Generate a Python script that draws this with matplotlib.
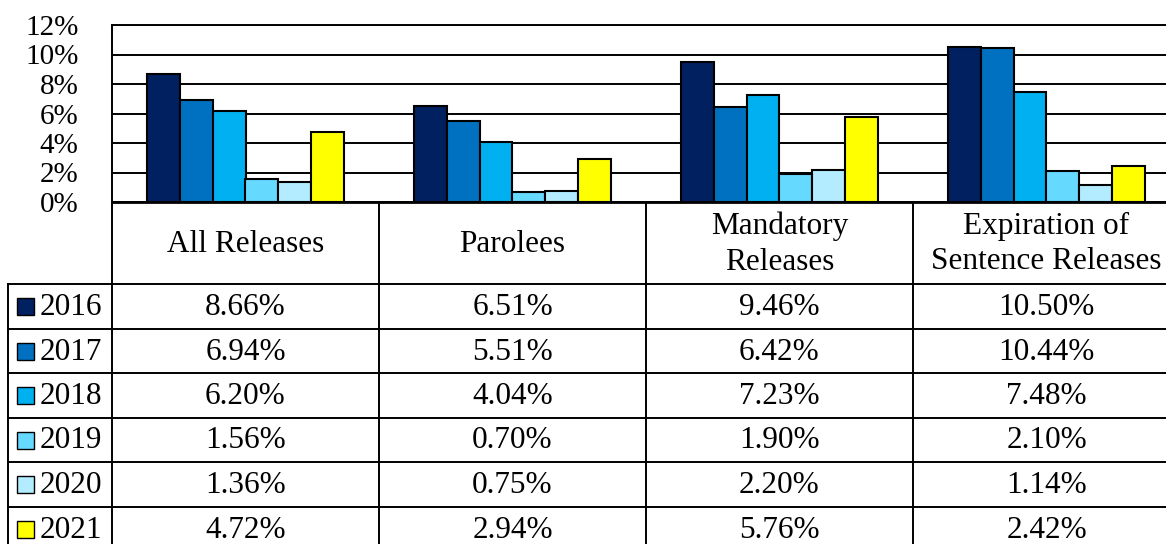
import matplotlib.pyplot as plt
from matplotlib.patches import Rectangle
import numpy as np

plt.rcParams['font.family'] = ['Liberation Serif', 'DejaVu Serif']

categories = ["All Releases", "Parolees", "Mandatory\nReleases", "Expiration of\nSentence Releases"]
years = ["2016", "2017", "2018", "2019", "2020", "2021"]
rates = {
    "2016": [8.66, 6.51, 9.46, 10.50],
    "2017": [6.94, 5.51, 6.42, 10.44],
    "2018": [6.20, 4.04, 7.23, 7.48],
    "2019": [1.56, 0.70, 1.90, 2.10],
    "2020": [1.36, 0.75, 2.20, 1.14],
    "2021": [4.72, 2.94, 5.76, 2.42],
}
colors = ["#002060", "#0070C0", "#00B0F0", "#66D9FF", "#B3ECFF", "#FFFF00"]

W, H = 1166, 544
FS = 22.5
fig = plt.figure(figsize=(W / 100, H / 100), dpi=100)

# layout in pixels (the chart runs a little past the right edge of the canvas)
plot_left, plot_right = 112, 1180
plot_top, plot_bottom = 25, 202
col_edges = [112, 379, 646, 913, 1180]
row_edges = [284, 329, 373, 418, 462, 507, 551]
legend_left = 8

# bar chart
ax = fig.add_axes([plot_left / W, 1 - plot_bottom / H,
                   (plot_right - plot_left) / W, (plot_bottom - plot_top) / H])
bw = 0.123
x = np.arange(len(categories)) + 0.5
for j, yr in enumerate(years):
    ax.bar(x + (j - 2.5) * bw, rates[yr], width=bw, color=colors[j],
           edgecolor="black", linewidth=1.5, zorder=3)
ax.set_xlim(0, 4)
ax.set_ylim(0, 12)
ax.set_yticks(range(0, 13, 2))
ax.set_yticklabels([f"{v}%" for v in range(0, 13, 2)], fontsize=21)
ax.tick_params(axis="y", length=0, pad=24)
ax.set_xticks([])
ax.grid(axis="y", color="black", linewidth=1.4, zorder=0)
ax.spines["right"].set_visible(False)
ax.spines["top"].set_linewidth(1.4)
ax.spines["left"].set_linewidth(1.4)
ax.spines["bottom"].set_linewidth(2)

# data table underneath
tb = fig.add_axes([0, 0, 1, 1])
tb.set_xlim(0, W)
tb.set_ylim(H, 0)
tb.axis("off")
lw = 1.4
for cx in col_edges[:-1]:
    tb.plot([cx, cx], [plot_bottom, H], color="black", lw=lw)
tb.plot([legend_left, legend_left], [row_edges[0], H], color="black", lw=lw)
for ry in row_edges[:-1]:
    tb.plot([legend_left, W], [ry, ry], color="black", lw=lw)

header_y = 244
for i, cat in enumerate(categories):
    cx = (col_edges[i] + col_edges[i + 1]) / 2
    tb.text(cx, header_y, cat, ha="center", va="center", fontsize=FS, linespacing=1.3)

for j, yr in enumerate(years):
    cy = (row_edges[j] + row_edges[j + 1]) / 2
    tb.add_patch(Rectangle((17, cy - 8.5), 17, 17, facecolor=colors[j],
                           edgecolor="black", lw=1.0))
    tb.text(40, cy + 1, yr, ha="left", va="center", fontsize=FS)
    for i in range(len(categories)):
        cx = (col_edges[i] + col_edges[i + 1]) / 2
        tb.text(cx, cy + 1, f"{rates[yr][i]:.2f}%", ha="center", va="center", fontsize=FS)

fig.savefig("out.png", dpi=100)
